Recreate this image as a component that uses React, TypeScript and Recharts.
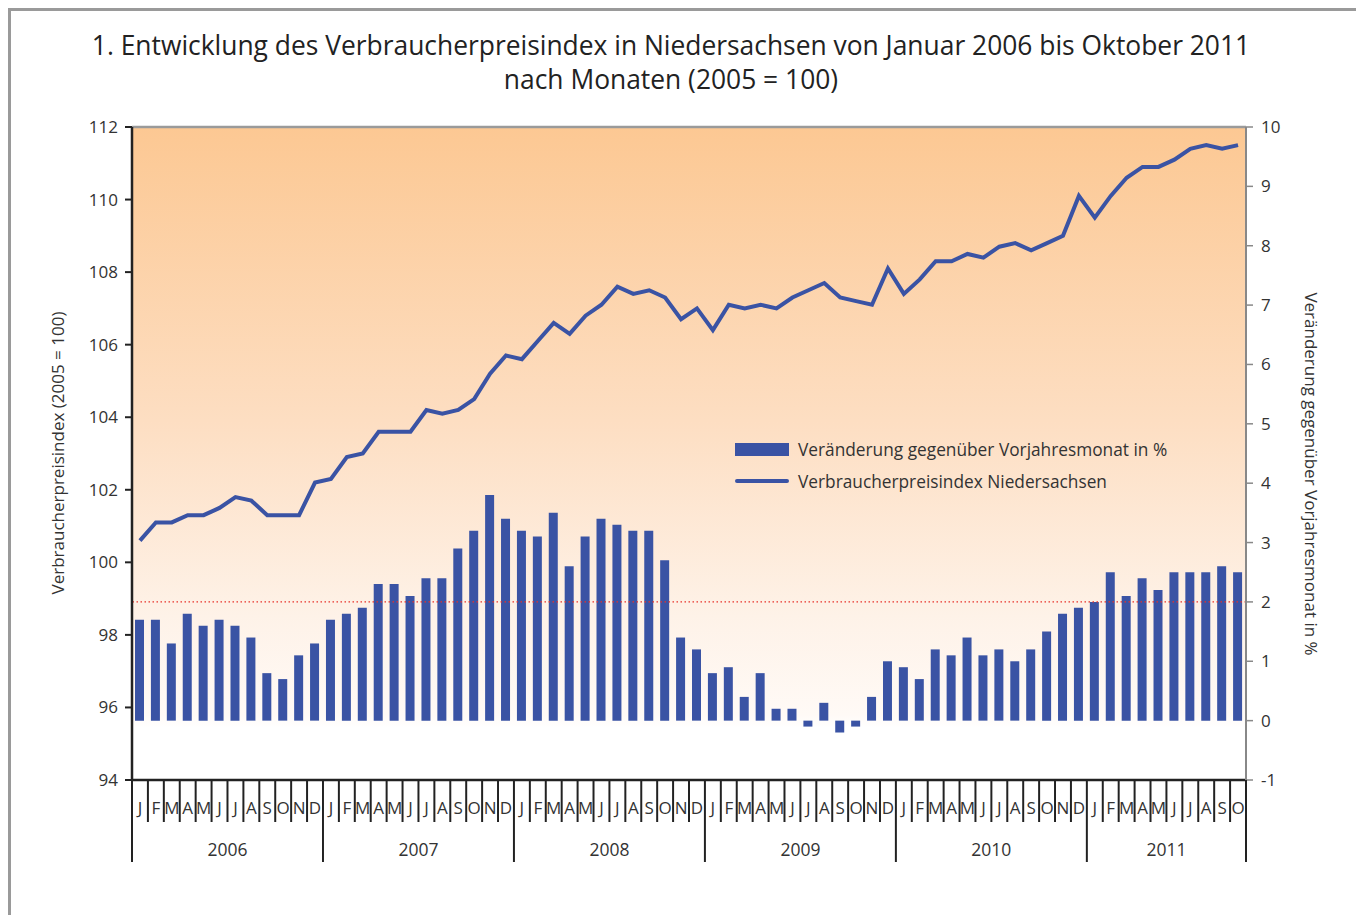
import { ComposedChart, Bar, Line, XAxis, YAxis, CartesianGrid, ReferenceLine } from "recharts";

const MONTH_LETTERS = ["J", "F", "M", "A", "M", "J", "J", "A", "S", "O", "N", "D"];
const YEARS = [2006, 2007, 2008, 2009, 2010, 2011];
const MONTHS_PER_YEAR = [12, 12, 12, 12, 12, 10];

// Verbraucherpreisindex Niedersachsen (2005 = 100)
const INDEX_VALUES = [
  100.6, 101.1, 101.1, 101.3, 101.3, 101.5, 101.8, 101.7, 101.3, 101.3, 101.3, 102.2,
  102.3, 102.9, 103.0, 103.6, 103.6, 103.6, 104.2, 104.1, 104.2, 104.5, 105.2, 105.7,
  105.6, 106.1, 106.6, 106.3, 106.8, 107.1, 107.6, 107.4, 107.5, 107.3, 106.7, 107.0,
  106.4, 107.1, 107.0, 107.1, 107.0, 107.3, 107.5, 107.7, 107.3, 107.2, 107.1, 108.1,
  107.4, 107.8, 108.3, 108.3, 108.5, 108.4, 108.7, 108.8, 108.6, 108.8, 109.0, 110.1,
  109.5, 110.1, 110.6, 110.9, 110.9, 111.1, 111.4, 111.5, 111.4, 111.5,
];

// Veränderung gegenüber Vorjahresmonat in %
const CHANGE_VALUES = [
  1.7, 1.7, 1.3, 1.8, 1.6, 1.7, 1.6, 1.4, 0.8, 0.7, 1.1, 1.3,
  1.7, 1.8, 1.9, 2.3, 2.3, 2.1, 2.4, 2.4, 2.9, 3.2, 3.8, 3.4,
  3.2, 3.1, 3.5, 2.6, 3.1, 3.4, 3.3, 3.2, 3.2, 2.7, 1.4, 1.2,
  0.8, 0.9, 0.4, 0.8, 0.2, 0.2, -0.1, 0.3, -0.2, -0.1, 0.4, 1.0,
  0.9, 0.7, 1.2, 1.1, 1.4, 1.1, 1.2, 1.0, 1.2, 1.5, 1.8, 1.9,
  2.0, 2.5, 2.1, 2.4, 2.2, 2.5, 2.5, 2.5, 2.6, 2.5,
];

const LEFT_TICKS = [94, 96, 98, 100, 102, 104, 106, 108, 110, 112];
const RIGHT_TICKS = [-1, 0, 1, 2, 3, 4, 5, 6, 7, 8, 9, 10];

const rows: { key: string; year: number; m: number; first: boolean; mid: boolean; index: number; change: number }[] = [];
YEARS.forEach((year, yi) => {
  const n = MONTHS_PER_YEAR[yi];
  for (let m = 0; m < n; m++) {
    const i = rows.length;
    rows.push({
      key: `${year}-${m + 1}`,
      year,
      m,
      first: m === 0,
      mid: m === Math.floor((n - 1) / 2),
      index: INDEX_VALUES[i],
      change: CHANGE_VALUES[i],
    });
  }
});

const W = 1364;
const H = 915;
const TOP = 127;
const LW = 132;
const RW = 118;
const XH = 135;
const BOTTOM = H - XH;
const STEP = (W - LW - RW) / rows.length;
const BLUE = "#3A53A4";
const FONT = "'Open Sans', 'Noto Sans', sans-serif";

function MonthTick(props: any) {
  const { x, payload } = props;
  const i = payload.index;
  const r = rows[i];
  if (!r) return null;
  const left = x - STEP / 2;
  const last = i === rows.length - 1;
  return (
    <g>
      <line x1={left} x2={left} y1={BOTTOM} y2={r.first ? BOTTOM + 82 : BOTTOM + 42} stroke="#222" strokeWidth={2} />
      {last && <line x1={x + STEP / 2} x2={x + STEP / 2} y1={BOTTOM} y2={BOTTOM + 82} stroke="#222" strokeWidth={2} />}
      <text x={x} y={BOTTOM + 34} textAnchor="middle" fontSize={17} fill="#333" fontFamily={FONT}>
        {MONTH_LETTERS[r.m]}
      </text>
      {r.mid && (
        <text x={x + STEP / 2} y={BOTTOM + 76} textAnchor="middle" fontSize={17.5} fill="#333" fontFamily={FONT}>
          {r.year}
        </text>
      )}
    </g>
  );
}

export default function App() {
  return (
    <div style={{ position: "relative", width: 1351, height: 930, border: "3px solid #9a9a9a", boxSizing: "border-box", fontFamily: FONT }}>
      <div style={{ position: "absolute", left: -11, top: -11, width: W, height: H }}>
        <div style={{ position: "absolute", left: -11, top: 28, width: W, textAlign: "center", fontSize: 26.4, lineHeight: "34px", color: "#222" }}>
          1. Entwicklung des Verbraucherpreisindex in Niedersachsen von Januar 2006 bis Oktober 2011
          <br />
          nach Monaten (2005 = 100)
        </div>
        <ComposedChart width={W} height={H} data={rows} margin={{ top: TOP, right: 0, bottom: 0, left: 0 }} barCategoryGap={0}>
          <defs>
            <linearGradient id="bg" x1="0" y1="0" x2="0" y2="1">
              <stop offset="0" stopColor="#FCC893" />
              <stop offset="0.45" stopColor="#FDDEC2" />
              <stop offset="0.75" stopColor="#FEF2E8" />
              <stop offset="0.9" stopColor="#FFFAF6" />
              <stop offset="0.92" stopColor="#FFFFFF" />
            </linearGradient>
          </defs>
          <CartesianGrid yAxisId="left" fill="url(#bg)" horizontal={false} vertical={false} />
          <XAxis
            dataKey="key"
            height={XH}
            interval={0}
            tickLine={false}
            axisLine={{ stroke: "#222", strokeWidth: 2.5 }}
            tick={<MonthTick />}
          />
          <YAxis
            yAxisId="left"
            orientation="left"
            width={LW}
            domain={[94, 112]}
            ticks={LEFT_TICKS}
            interval={0}
            tickSize={7}
            tickMargin={7}
            axisLine={{ stroke: "#222", strokeWidth: 2.5 }}
            tickLine={{ stroke: "#222", strokeWidth: 2 }}
            tick={{ fontSize: 17, fill: "#333", fontFamily: FONT }}
          />
          <YAxis
            yAxisId="right"
            orientation="right"
            width={RW}
            domain={[-1, 10]}
            ticks={RIGHT_TICKS}
            interval={0}
            tickSize={7}
            tickMargin={8}
            axisLine={{ stroke: "#888", strokeWidth: 2 }}
            tickLine={{ stroke: "#888", strokeWidth: 1.5 }}
            tick={{ fontSize: 17, fill: "#333", fontFamily: FONT, textAnchor: "start" }}
          />
          <ReferenceLine yAxisId="left" y={112} stroke="#9a9a9a" strokeWidth={2.5} />
          <Bar yAxisId="right" dataKey="change" fill={BLUE} barSize={9} isAnimationActive={false} />
          <ReferenceLine yAxisId="right" y={2} stroke="#E8302A" strokeWidth={1.3} strokeDasharray="1.5 2.5" />
          <Line yAxisId="left" type="linear" dataKey="index" stroke={BLUE} strokeWidth={4} dot={false} isAnimationActive={false} />
        </ComposedChart>
        <div style={{ position: "absolute", left: 57, top: 453, transform: "translate(-50%, -50%) rotate(-90deg)", whiteSpace: "nowrap", fontSize: 17, color: "#333" }}>
          Verbraucherpreisindex (2005 = 100)
        </div>
        <div style={{ position: "absolute", left: 1311, top: 474, transform: "translate(-50%, -50%) rotate(90deg)", whiteSpace: "nowrap", fontSize: 17, color: "#333" }}>
          Veränderung gegenüber Vorjahresmonat in %
        </div>
        <div style={{ position: "absolute", left: 735, top: 436, fontSize: 17.3, color: "#333" }}>
          <div style={{ display: "flex", alignItems: "center", height: 26 }}>
            <span style={{ display: "inline-block", width: 54, height: 13, background: BLUE, marginRight: 9 }} />
            Veränderung gegenüber Vorjahresmonat in %
          </div>
          <div style={{ display: "flex", alignItems: "center", height: 26, marginTop: 6 }}>
            <span style={{ display: "inline-block", width: 54, height: 4, borderRadius: 2, background: BLUE, marginRight: 9 }} />
            Verbraucherpreisindex Niedersachsen
          </div>
        </div>
      </div>
    </div>
  );
}
